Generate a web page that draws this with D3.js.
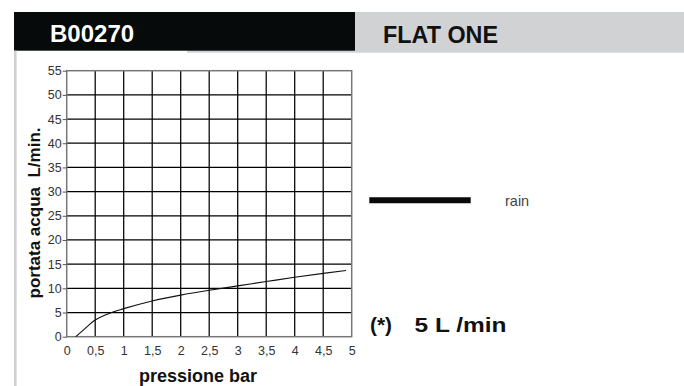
<!DOCTYPE html>
<html>
<head>
<meta charset="utf-8">
<script src="https://cdn.jsdelivr.net/npm/d3@7"></script>
<style>
  html, body { margin: 0; padding: 0; background: #fff; }
  svg { display: block; }
  text { font-family: "Liberation Sans", Arial, Helvetica, sans-serif; }
</style>
</head>
<body>
<svg id="chart" width="684" height="386"></svg>
<script>
// ---- data ----
const headerCode = "B00270";
const headerName = "FLAT ONE";
const xTicks = [0, 0.5, 1, 1.5, 2, 2.5, 3, 3.5, 4, 4.5, 5];
const xTickLabels = ["0", "0,5", "1", "1,5", "2", "2,5", "3", "3,5", "4", "4,5", "5"];
const yTicks = [0, 5, 10, 15, 20, 25, 30, 35, 40, 45, 50, 55];
const pressure = [0.16, 0.3, 0.5, 0.7, 1, 1.5, 2, 2.5, 3, 3.5, 4, 4.5, 4.9];
const flow     = [0, 1.45, 3.45, 4.6, 5.8, 7.4, 8.6, 9.6, 10.5, 11.4, 12.3, 13.1, 13.7];
const seriesName = "rain";
const xTitle = "pressione bar";
const yTitle = "portata acqua  L/min.";
const noteMark = "(*)";
const noteText = "5 L /min";

const svg = d3.select("#chart");

// ---- header ----
svg.append("rect").attr("x", 187).attr("y", 12).attr("width", 684 - 187).attr("height", 40.7).attr("fill", "#d1d2d4");
svg.append("rect").attr("x", 14).attr("y", 12).attr("width", 341).attr("height", 38.7).attr("fill", "#070a0b");
svg.append("rect").attr("x", 14).attr("y", 50.7).attr("width", 2.6).attr("height", 386 - 50.7).attr("fill", "#cfd0d2");
svg.append("text").attr("x", 50).attr("y", 42.3).attr("fill", "#fff")
  .attr("font-size", 24).attr("font-weight", "bold").text(headerCode);
svg.append("text").attr("x", 383).attr("y", 43.3).attr("fill", "#111")
  .attr("font-size", 23).attr("font-weight", "bold")
  .attr("textLength", 115).attr("lengthAdjust", "spacingAndGlyphs").text(headerName);

// ---- scales ----
const x = d3.scaleLinear().domain([0, 5]).range([66.7, 351.7]);
const y = d3.scaleLinear().domain([0, 55]).range([336.7, 70.7]);

// ---- grid ----
const g = svg.append("g");
g.selectAll("line.vg").data(xTicks.slice(1, -1)).join("line")
  .attr("x1", d => x(d)).attr("x2", d => x(d))
  .attr("y1", y(55)).attr("y2", y(0))
  .attr("stroke", "#000").attr("stroke-width", 1.25);
g.selectAll("line.hg").data(yTicks.slice(1, -1)).join("line")
  .attr("y1", d => y(d)).attr("y2", d => y(d))
  .attr("x1", x(0)).attr("x2", x(5))
  .attr("stroke", "#000").attr("stroke-width", 1.25);
g.append("rect").attr("x", x(0)).attr("y", y(55))
  .attr("width", x(5) - x(0)).attr("height", y(0) - y(55))
  .attr("fill", "none").attr("stroke", "#777").attr("stroke-width", 1.5);

// ---- axes ----
const yAxis = d3.axisLeft(y).tickValues(yTicks).tickSize(4).tickPadding(1).tickFormat(d3.format("d"));
const ya = svg.append("g").attr("transform", `translate(${x(0)},0)`).call(yAxis);
ya.select(".domain").remove();
ya.selectAll(".tick line").attr("stroke", "#555");
ya.selectAll("text").attr("font-size", 12.5).attr("fill", "#333")
  .attr("font-family", "'Liberation Sans', Arial, sans-serif");

const xAxis = d3.axisBottom(x).tickValues(xTicks).tickSize(0).tickPadding(9)
  .tickFormat((d, i) => xTickLabels[i]);
const xa = svg.append("g").attr("transform", `translate(0,${y(0)})`).call(xAxis);
xa.select(".domain").remove();
xa.selectAll("text").attr("font-size", 12.5).attr("fill", "#333")
  .attr("font-family", "'Liberation Sans', Arial, sans-serif");

// ---- curve ----
const pts = pressure.map((p, i) => [p, flow[i]]);
const line = d3.line().x(d => x(d[0])).y(d => y(d[1])).curve(d3.curveMonotoneX);
svg.append("path").attr("d", line(pts)).attr("fill", "none")
  .attr("stroke", "#111").attr("stroke-width", 1.1);

// ---- titles ----
svg.append("text").attr("x", 198).attr("y", 382).attr("text-anchor", "middle")
  .attr("font-size", 18).attr("font-weight", "bold").attr("fill", "#111").text(xTitle);
svg.append("text").attr("transform", "translate(39.5,213) rotate(-90)")
  .attr("text-anchor", "middle").attr("font-size", 17).attr("font-weight", "bold")
  .style("white-space", "pre")
  .attr("fill", "#111").text(yTitle);

// ---- legend ----
svg.append("line").attr("x1", 369.3).attr("x2", 470.7).attr("y1", 200.3).attr("y2", 200.3)
  .attr("stroke", "#0a0a0a").attr("stroke-width", 6);
svg.append("text").attr("x", 505).attr("y", 206).attr("font-size", 14.5)
  .attr("fill", "#444").text(seriesName);

// ---- note ----
svg.append("text").attr("x", 370).attr("y", 331.7).attr("font-size", 20)
  .attr("font-weight", "bold").attr("fill", "#111")
  .attr("textLength", 22).attr("lengthAdjust", "spacingAndGlyphs").text(noteMark);
svg.append("text").attr("x", 414.5).attr("y", 331.7).attr("font-size", 20)
  .attr("font-weight", "bold").attr("fill", "#111")
  .attr("textLength", 92).attr("lengthAdjust", "spacingAndGlyphs").text(noteText);
</script>
</body>
</html>
